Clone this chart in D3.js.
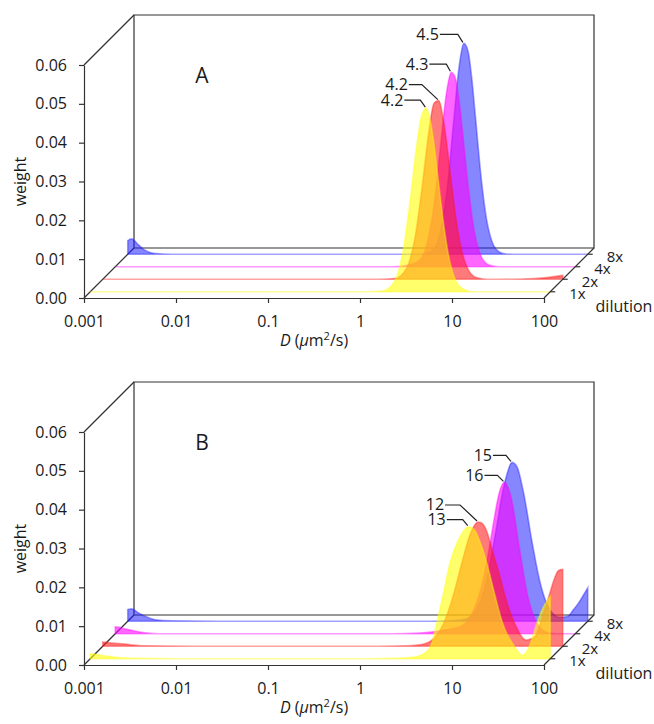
<!DOCTYPE html>
<html>
<head>
<meta charset="utf-8">
<script src="https://cdn.jsdelivr.net/npm/d3@7"></script>
<style>
  body { margin: 0; background: #fff; }
  text { font-family: "Open Sans", sans-serif; fill: #1a1a1a; }
</style>
</head>
<body>
<script>
// dilution series, back one last
var dilutions = ["1x", "2x", "4x", "8x"];
var colors = ["#ffff00", "#ff1a1a", "#ff00ff", "#1a1aff"];
var fillOp = [0.58, 0.58, 0.6, 0.53];

var xTicks = [0.001, 0.01, 0.1, 1, 10, 100];
var yTicks = [0, 0.01, 0.02, 0.03, 0.04, 0.05, 0.06];

// panel A: D grid and weights
var dA = [0.001, 0.0011, 0.0013, 0.0015, 0.002, 0.003, 0.01, 0.1, 1, 1.5, 2, 2.5, 3, 3.5, 4, 4.5, 5, 5.5, 6, 7, 8, 9, 10, 12, 15, 20, 50, 100];
var yellowA = [0, 0, 0, 0, 0, 0, 0, 0, 0, 0.0002, 0.0024, 0.0102, 0.0235, 0.0369, 0.0454, 0.0473, 0.0438, 0.0373, 0.0298, 0.0168, 0.0084, 0.004, 0.0018, 0.0004, 0, 0, 0, 0];
var redA    = [0, 0, 0, 0, 0, 0, 0, 0, 0, 0.0002, 0.0028, 0.0113, 0.025, 0.038, 0.0454, 0.046, 0.0416, 0.0347, 0.0272, 0.0148, 0.0072, 0.0034, 0.0015, 0.0003, 0, 0, 0.0002, 0.001];
var pinkA   = [0, 0, 0, 0, 0, 0, 0, 0, 0, 0.0004, 0.0015, 0.0068, 0.0181, 0.0331, 0.0451, 0.0501, 0.0484, 0.0422, 0.034, 0.0189, 0.0091, 0.0041, 0.0017, 0.0003, 0, 0, 0, 0];
var blueA   = [0.0035, 0.004, 0.0025, 0.0012, 0.0002, 0, 0, 0, 0, 0, 0.0008, 0.0058, 0.018, 0.0347, 0.0484, 0.0543, 0.0523, 0.0451, 0.0357, 0.0189, 0.0086, 0.0036, 0.0014, 0.0002, 0, 0, 0, 0];
var labelsA = ["4.2", "4.2", "4.3", "4.5"];

// panel B
var dB = [0.001, 0.0011, 0.0013, 0.0015, 0.002, 0.003, 0.01, 0.1, 1, 2, 3, 4, 5, 6, 7, 8, 10, 12, 13, 15, 17, 20, 25, 30, 40, 50, 60, 70, 80, 90, 100];
var yellowB = [0.0013, 0.0012, 0.0009, 0.0007, 0.0003, 0.0001, 0, 0, 0, 0.0001, 0.0003, 0.001, 0.0032, 0.0105, 0.0175, 0.024, 0.0305, 0.0335, 0.034, 0.0332, 0.0305, 0.0255, 0.0165, 0.0095, 0.0035, 0.0009, 0.0035, 0.0085, 0.0122, 0.0145, 0.016];
var redB    = [0.0011, 0.001, 0.0008, 0.0007, 0.0004, 0.0001, 0, 0, 0, 0.0001, 0.0005, 0.0021, 0.0056, 0.0106, 0.0162, 0.0215, 0.0292, 0.032, 0.0318, 0.0295, 0.025, 0.0193, 0.0109, 0.0059, 0.0016, 0.0025, 0.0075, 0.0125, 0.017, 0.0195, 0.0198];
var pinkB   = [0.0018, 0.0017, 0.0012, 0.0009, 0.0003, 0, 0, 0, 0, 0.0002, 0.0006, 0.001, 0.0015, 0.0022, 0.0038, 0.0065, 0.014, 0.024, 0.029, 0.0365, 0.039, 0.0352, 0.0213, 0.0104, 0.002, 0.0003, 0, 0, 0, 0, 0];
var blueB   = [0.003, 0.0032, 0.0022, 0.0014, 0.0004, 0.0001, 0, 0, 0, 0, 0.0001, 0.0003, 0.0008, 0.0026, 0.006, 0.0109, 0.0231, 0.0338, 0.0372, 0.0409, 0.0398, 0.0333, 0.02, 0.0105, 0.0025, 0.001, 0.0012, 0.003, 0.0048, 0.0068, 0.0086];
var labelsB = ["13", "12", "16", "15"];

// leader lines: elbow offset from peak (dx, dy) and horizontal length
var leadA = [[-5, -7, 16], [-16, -15, 13], [-4, -7, 17], [-5, -8, 18]];
var leadB = [[-5, -6, 16], [-17, -16, 15], [-6, -6, 13], [-5, -6, 13]];

var W = 654, H = 724;
var depth = 50;

var svg = d3.select("body").append("svg")
    .attr("width", W)
    .attr("height", H);

var x = d3.scaleLog().domain([0.001, 100]).range([84, 544]);
var y = d3.scaleLinear().domain([0, 0.06]).range([298, 65]);
var z = d3.scaleBand().domain(dilutions).range([0, depth]);
function off(k) { return z(k) + z.bandwidth() / 2; }

function panel(oy, name, grid, series, labels, lead) {
  var g = svg.append("g").attr("transform", "translate(0," + oy + ")");
  var x0 = x.range()[0], x1 = x.range()[1], y0 = y(0), y1 = y(0.06);
  var ln = "#333";

  // back wall and floor edges
  g.append("path")
      .attr("d", "M" + (x0 + depth) + "," + (y0 - depth) + "V" + (y1 - depth) + "H" + (x1 + depth) + "V" + (y0 - depth) + "H" + (x0 + depth))
      .attr("fill", "none").attr("stroke", ln).attr("stroke-width", 1.2);
  g.append("line").attr("x1", x0).attr("y1", y1).attr("x2", x0 + depth).attr("y2", y1 - depth)
      .attr("stroke", ln).attr("stroke-width", 1.2);
  g.append("line").attr("x1", x0).attr("y1", y0).attr("x2", x0 + depth).attr("y2", y0 - depth)
      .attr("stroke", ln).attr("stroke-width", 1.2);

  // series, back to front
  for (var i = dilutions.length - 1; i >= 0; i--) {
    var o = off(dilutions[i]);
    var pts = grid.map(function(d, j) { return [d, series[i][j]]; });
    var area = d3.area()
        .x(function(d) { return x(d[0]) + o; })
        .y0(y(0) - o)
        .y1(function(d) { return y(d[1]) - o; })
        .curve(d3.curveMonotoneX);
    g.append("path")
        .datum(pts)
        .attr("d", area)
        .attr("fill", colors[i])
        .attr("fill-opacity", fillOp[i])
        .attr("stroke", colors[i])
        .attr("stroke-opacity", 0.4)
        .attr("stroke-width", 1.6);
  }

  // peak labels
  for (var i = 0; i < dilutions.length; i++) {
    var o = off(dilutions[i]);
    var m = d3.maxIndex(series[i]);
    var px = x(grid[m]) + o - 1, py = y(series[i][m]) - o - 1;
    var ex = px + lead[i][0], ey = py + lead[i][1];
    g.append("polyline")
        .attr("points", (ex - lead[i][2]) + "," + ey + " " + ex + "," + ey + " " + px + "," + py)
        .attr("fill", "none").attr("stroke", "#222").attr("stroke-width", 1.2);
    g.append("text")
        .attr("x", ex - lead[i][2] - 1)
        .attr("y", ey + 5.5)
        .attr("text-anchor", "end")
        .style("font-size", "16px")
        .text(labels[i]);
  }

  // front axes
  var ya = g.append("g")
      .attr("transform", "translate(" + x0 + ",0)")
      .call(d3.axisLeft(y).tickValues(yTicks).tickFormat(d3.format(".2f")).tickSize(5).tickSizeOuter(0).tickPadding(12));
  var xa = g.append("g")
      .attr("transform", "translate(0," + y0 + ")")
      .call(d3.axisBottom(x).tickValues(xTicks).tickFormat(function(d) { return String(d); }).tickSize(5).tickSizeOuter(0).tickPadding(13));
  [ya, xa].forEach(function(a) {
    a.attr("font-family", null).attr("font-size", null);
    a.selectAll("path, line").attr("stroke", ln).attr("stroke-width", 1.2);
    a.selectAll("text").style("font-size", "16px").attr("fill", "#1a1a1a");
  });

  // depth axis
  g.append("line").attr("x1", x1).attr("y1", y0).attr("x2", x1 + depth).attr("y2", y0 - depth)
      .attr("stroke", ln).attr("stroke-width", 1.2);
  dilutions.forEach(function(k) {
    var o = off(k);
    g.append("line").attr("x1", x1 + o).attr("y1", y0 - o).attr("x2", x1 + o + 5).attr("y2", y0 - o)
        .attr("stroke", ln).attr("stroke-width", 1.2);
    g.append("text").attr("x", x1 + o + 19).attr("y", y0 - o + 7.5)
        .style("font-size", "15px").text(k);
  });
  g.append("text").attr("x", 624).attr("y", y0 + 14).attr("text-anchor", "middle")
      .style("font-size", "16px").text("dilution");

  // titles
  g.append("text")
      .attr("transform", "translate(26," + ((y0 + y1) / 2) + ") rotate(-90)")
      .attr("text-anchor", "middle")
      .style("font-size", "16px")
      .text("weight");
  var t = g.append("text").attr("x", (x0 + x1) / 2).attr("y", y0 + 48)
      .attr("text-anchor", "middle").style("font-size", "16px");
  t.append("tspan").style("font-style", "italic").text("D");
  t.append("tspan").text(" (");
  t.append("tspan").style("font-style", "italic").text("\u03bc");
  t.append("tspan").text("m");
  t.append("tspan").attr("dy", -6).style("font-size", "11px").text("2");
  t.append("tspan").attr("dy", 6).text("/s)");

  g.append("text").attr("x", 202).attr("y", 83).attr("text-anchor", "middle")
      .style("font-size", "21px").text(name);
}

panel(0, "A", dA, [yellowA, redA, pinkA, blueA], labelsA, leadA);
panel(367, "B", dB, [yellowB, redB, pinkB, blueB], labelsB, leadB);
</script>
</body>
</html>
